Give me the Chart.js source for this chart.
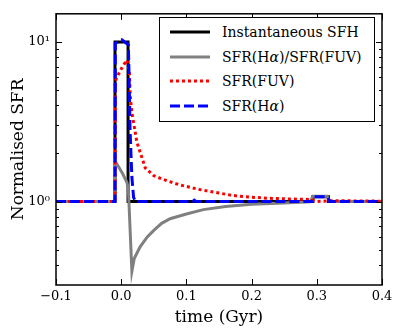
<!DOCTYPE html>
<html>
<head>
<meta charset="utf-8">
<script src="https://cdn.jsdelivr.net/npm/chart.js@4.4.1/dist/chart.umd.min.js"></script>
<style>
  html, body { margin: 0; padding: 0; background: #fff; }
  #wrap { position: relative; width: 399px; height: 332px; }
  #legend {
    position: absolute; left: 159px; top: 17px; width: 214px; height: 103px;
    border: 1px solid #000; background: #fff;
    font-family: "DejaVu Serif", serif; font-size: 14px; color: #000;
  }
  .row { position: absolute; left: 0; height: 20px; display: flex; align-items: center; white-space: nowrap; }
  .row svg { margin-left: 10px; }
  .row span { margin-left: 12px; }
</style>
</head>
<body>
<div id="wrap">
  <canvas id="chart" width="399" height="332"></canvas>
  <div id="legend"></div>
</div>
<script>
// --- Data (time in Gyr, normalised SFR) ---
const sfhX = [-0.1, -0.0095, -0.0095, 0.0105, 0.0105, 0.294, 0.294, 0.318, 0.318, 0.4];
const sfhY = [1, 1, 10, 10, 1, 1, 1.07, 1.07, 1, 1];

const ratioX = [-0.1, -0.0095, -0.009, -0.004, 0.002, 0.0087, 0.011, 0.0164, 0.02, 0.029, 0.04, 0.05, 0.062, 0.075, 0.1, 0.126, 0.16, 0.2, 0.25, 0.29, 0.294, 0.316, 0.32, 0.4];
const ratioY = [1, 1, 1.78, 1.65, 1.5, 1.32, 1.2, 0.366, 0.44, 0.52, 0.6, 0.66, 0.73, 0.78, 0.836, 0.89, 0.93, 0.96, 0.98, 0.995, 1.08, 1.08, 1.0, 1.0];

const fuvX = [-0.1, -0.0095, -0.009, -0.004, 0.002, 0.0087, 0.0125, 0.014, 0.0164, 0.024, 0.037, 0.05, 0.07, 0.09, 0.12, 0.15, 0.172, 0.2, 0.223, 0.25, 0.29, 0.3, 0.32, 0.35, 0.4];
const fuvY = [1, 1, 5.7, 6.3, 7.0, 7.7, 6.5, 4.5, 3.6, 2.36, 1.62, 1.45, 1.35, 1.27, 1.19, 1.13, 1.09, 1.065, 1.05, 1.04, 1.03, 1.0, 1.01, 1.01, 1.005];

const haX = [-0.1, -0.0095, -0.009, 0.001, 0.011, 0.0125, 0.0135, 0.0155, 0.0165, 0.019, 0.022, 0.06, 0.062, 0.065, 0.11, 0.112, 0.115, 0.292, 0.296, 0.316, 0.32, 0.4];
const haY = [1, 1, 9.8, 10.3, 9.6, 5, 2.9, 1.75, 1.4, 1.06, 1.0, 1.0, 1.02, 1.0, 1.0, 1.02, 1.0, 1.0, 1.07, 1.07, 1.0, 1.0];

const labels = ['Instantaneous SFH', 'SFR(H\u03b1)/SFR(FUV)', 'SFR(FUV)', 'SFR(H\u03b1)'];
const colors = ['#000000', '#808080', '#ff0000', '#0000ff'];
const dashes = [[], [], [3, 3], [10, 4]];

const xTicks = [-0.1, 0.0, 0.1, 0.2, 0.3, 0.4];
const yMajor = [1, 10];
const yMinor = [0.4, 0.5, 0.6, 0.7, 0.8, 0.9, 2, 3, 4, 5, 6, 7, 8, 9];

function pairs(xs, ys) {
    return xs.map((x, i) => ({ x: x, y: ys[i] }));
}

const series = [pairs(sfhX, sfhY), pairs(ratioX, ratioY), pairs(fuvX, fuvY), pairs(haX, haY)];

// --- Frame and inward ticks (matplotlib look) ---
const frameTicks = {
    id: 'frameTicks',
    afterDraw(chart) {
        const { ctx, chartArea: a, scales: { x, y } } = chart;
        ctx.save();
        ctx.strokeStyle = '#000';
        ctx.lineWidth = 1;
        ctx.beginPath();
        xTicks.forEach(v => {
            const px = Math.round(x.getPixelForValue(v)) + 0.5;
            ctx.moveTo(px, a.bottom); ctx.lineTo(px, a.bottom - 6);
            ctx.moveTo(px, a.top); ctx.lineTo(px, a.top + 6);
        });
        yMajor.forEach(v => {
            const py = Math.round(y.getPixelForValue(v)) + 0.5;
            ctx.moveTo(a.left, py); ctx.lineTo(a.left + 6, py);
            ctx.moveTo(a.right, py); ctx.lineTo(a.right - 6, py);
        });
        yMinor.forEach(v => {
            const py = Math.round(y.getPixelForValue(v)) + 0.5;
            ctx.moveTo(a.left, py); ctx.lineTo(a.left + 3, py);
            ctx.moveTo(a.right, py); ctx.lineTo(a.right - 3, py);
        });
        ctx.stroke();
        ctx.lineWidth = 1.5;
        ctx.strokeRect(a.left, a.top, a.right - a.left, a.bottom - a.top);
        ctx.restore();
    }
};

const serif = "'DejaVu Serif', serif";

const chart = new Chart(document.getElementById('chart').getContext('2d'), {
    type: 'line',
    data: {
        datasets: series.map((d, i) => ({
            label: labels[i],
            data: d,
            borderColor: colors[i],
            borderWidth: 3,
            borderDash: dashes[i],
            borderCapStyle: 'butt',
            pointRadius: 0,
            tension: 0,
            fill: false,
            order: 4 - i
        }))
    },
    options: {
        responsive: false,
        devicePixelRatio: 1,
        animation: false,
        layout: { padding: { top: 10, right: 17, left: 0, bottom: 0 } },
        plugins: { legend: { display: false }, tooltip: { enabled: false } },
        scales: {
            x: {
                type: 'linear',
                min: -0.1,
                max: 0.4,
                afterBuildTicks: (s) => { s.ticks = xTicks.map(v => ({ value: v })); },
                afterFit: (s) => { s.height = 47; },
                grid: { display: false, drawTicks: false },
                border: { display: false },
                ticks: {
                    padding: 4,
                    color: '#000',
                    font: { family: serif, size: 13 },
                    callback: (v) => v.toFixed(1).replace('-', '\u2212')
                },
                title: {
                    display: true,
                    text: 'time (Gyr)',
                    color: '#000',
                    font: { family: serif, size: 17 },
                    padding: { top: 0, bottom: 4 }
                }
            },
            y: {
                type: 'logarithmic',
                min: 0.3,
                max: 15,
                afterBuildTicks: (s) => { s.ticks = yMajor.map(v => ({ value: v })); },
                afterFit: (s) => { s.width = 56; },
                grid: { display: false, drawTicks: false },
                border: { display: false },
                ticks: {
                    padding: 6,
                    color: '#000',
                    font: { family: serif, size: 13 },
                    callback: (v) => v === 10 ? '10\u00b9' : '10\u2070'
                },
                title: {
                    display: true,
                    text: 'Normalised SFR',
                    color: '#000',
                    font: { family: serif, size: 17 },
                    padding: { top: 8, bottom: 0 }
                }
            }
        }
    },
    plugins: [frameTicks]
});

// --- HTML legend built from the datasets ---
const legend = document.getElementById('legend');
const rowTops = [4, 29, 53, 78];
labels.forEach((lab, i) => {
    const row = document.createElement('div');
    row.className = 'row';
    row.style.top = rowTops[i] + 'px';
    const dash = dashes[i].length ? ` stroke-dasharray="${dashes[i].join(',')}"` : '';
    row.innerHTML = `<svg width="40" height="6"><line x1="0" y1="3" x2="40" y2="3" stroke="${colors[i]}" stroke-width="3"${dash}/></svg>` +
        `<span>${lab.replace(/\u03b1/g, '<i>\u03b1</i>')}</span>`;
    legend.appendChild(row);
});
</script>
</body>
</html>
